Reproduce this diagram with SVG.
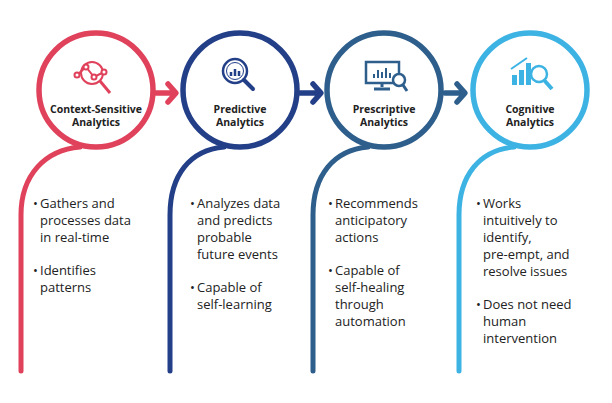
<svg xmlns="http://www.w3.org/2000/svg" width="612" height="403" viewBox="0 0 612 403">
<style>
.ring{fill:none;stroke-width:5.5}
.tail{fill:none;stroke-width:5;stroke-linecap:round}
.arr{fill:none;stroke-width:5.5;stroke-linecap:round;stroke-linejoin:round}
.t{font-family:"Open Sans","Liberation Sans",sans-serif;font-weight:bold;font-size:10.5px;fill:#222;text-anchor:middle}
.b{font-family:"Open Sans","Liberation Sans",sans-serif;font-size:13px;fill:#222}
.c1{stroke:#e0415b}.c2{stroke:#233f88}.c3{stroke:#2e5f8c}.c4{stroke:#3db3e4}
</style>
<rect width="612" height="403" fill="#fff"/>
<g id="connectors">
<path class="arr c1" d="M156 93 H175 M168 84 L176 93 L168 102"/>
<path class="arr c2" d="M300 93 H320 M313 84 L321 93 L313 102"/>
<path class="arr c3" d="M445 93 H464 M457 84 L465 93 L457 102"/>
</g>
<g id="n1">
<circle class="ring c1" cx="96" cy="90" r="57"/>
<path class="tail c1" d="M80 147 C45 150 21 175 21 215 V371"/>
<g fill="none" stroke="#e0415b" stroke-width="2"><circle cx="92" cy="73" r="11"/><path d="M100 81 L110 93" stroke-width="3"/><polyline points="77,75 86,67 94,77 104,72"/><circle cx="77" cy="75" r="2.5" fill="#fff"/><circle cx="86" cy="67" r="2.5" fill="#fff"/><circle cx="94" cy="77" r="2.5" fill="#fff"/><circle cx="104" cy="72" r="2.5" fill="#fff"/></g>
<text class="t" x="96" y="113">Context-Sensitive</text><text class="t" x="96" y="126">Analytics</text>
<text class="b" x="33" y="208">•</text><text class="b" x="40" y="208">Gathers and</text><text class="b" x="40" y="225">processes data</text><text class="b" x="40" y="242">in real-time</text><text class="b" x="33" y="275">•</text><text class="b" x="40" y="275">Identifies</text><text class="b" x="40" y="292">patterns</text>
</g>
<g id="n2">
<circle class="ring c2" cx="240" cy="90" r="57"/>
<path class="tail c2" d="M224 147 C190 150 170 175 170 215 V371"/>
<g fill="none" stroke="#233f88"><circle cx="235" cy="71" r="12" stroke-width="2.5"/><circle cx="235" cy="71" r="8.5" stroke-width="1"/><path d="M244 80 L253 89" stroke-width="4" stroke-linecap="round"/><path d="M231 76 v-4 M235 76 v-7 M239 76 v-5" stroke-width="2.5"/></g>
<text class="t" x="240" y="113">Predictive</text><text class="t" x="240" y="126">Analytics</text>
<text class="b" x="190" y="208">•</text><text class="b" x="197" y="208">Analyzes data</text><text class="b" x="197" y="225">and predicts</text><text class="b" x="197" y="242">probable</text><text class="b" x="197" y="259">future events</text><text class="b" x="190" y="292">•</text><text class="b" x="197" y="292">Capable of</text><text class="b" x="197" y="309">self-learning</text>
</g>
<g id="n3">
<circle class="ring c3" cx="384" cy="90" r="57"/>
<path class="tail c3" d="M368 147 C334 150 313 175 313 215 V371"/>
<g fill="none" stroke="#2e5f8c"><rect x="366" y="62" width="33" height="21" stroke-width="2.5"/><path d="M382 83 v4 M374 89 h16" stroke-width="3"/><path d="M374 78 v-4 M378 78 v-8 M382 78 v-6 M386 78 v-10 M390 78 v-5" stroke-width="2"/><circle cx="399" cy="80" r="6" fill="#fff" stroke-width="2.5"/><path d="M403 85 L407 91" stroke-width="3"/></g>
<text class="t" x="384" y="113">Prescriptive</text><text class="t" x="384" y="126">Analytics</text>
<text class="b" x="328" y="208">•</text><text class="b" x="335" y="208">Recommends</text><text class="b" x="335" y="225">anticipatory</text><text class="b" x="335" y="242">actions</text><text class="b" x="328" y="275">•</text><text class="b" x="335" y="275">Capable of</text><text class="b" x="335" y="292">self-healing</text><text class="b" x="335" y="309">through</text><text class="b" x="335" y="326">automation</text>
</g>
<g id="n4">
<circle class="ring c4" cx="530" cy="90" r="57"/>
<path class="tail c4" d="M514 147 C480 150 459 175 459 215 V371"/>
<g fill="#3db3e4"><rect x="512" y="75" width="5" height="10"/><rect x="519" y="70" width="5" height="15"/><rect x="526" y="63" width="5" height="22"/><path d="M511 69 L527 58" stroke="#3db3e4" stroke-width="2" fill="none"/><circle cx="539" cy="74" r="8" fill="#fff" stroke="#3db3e4" stroke-width="2.5"/><path d="M544 80 L552 89" stroke="#3db3e4" stroke-width="4"/></g>
<text class="t" x="530" y="113">Cognitive</text><text class="t" x="530" y="126">Analytics</text>
<text class="b" x="476" y="208">•</text><text class="b" x="483" y="208">Works</text><text class="b" x="483" y="225">intuitively to</text><text class="b" x="483" y="242">identify,</text><text class="b" x="483" y="259">pre-empt, and</text><text class="b" x="483" y="276">resolve issues</text><text class="b" x="476" y="309">•</text><text class="b" x="483" y="309">Does not need</text><text class="b" x="483" y="326">human</text><text class="b" x="483" y="343">intervention</text>
</g>
</svg>
